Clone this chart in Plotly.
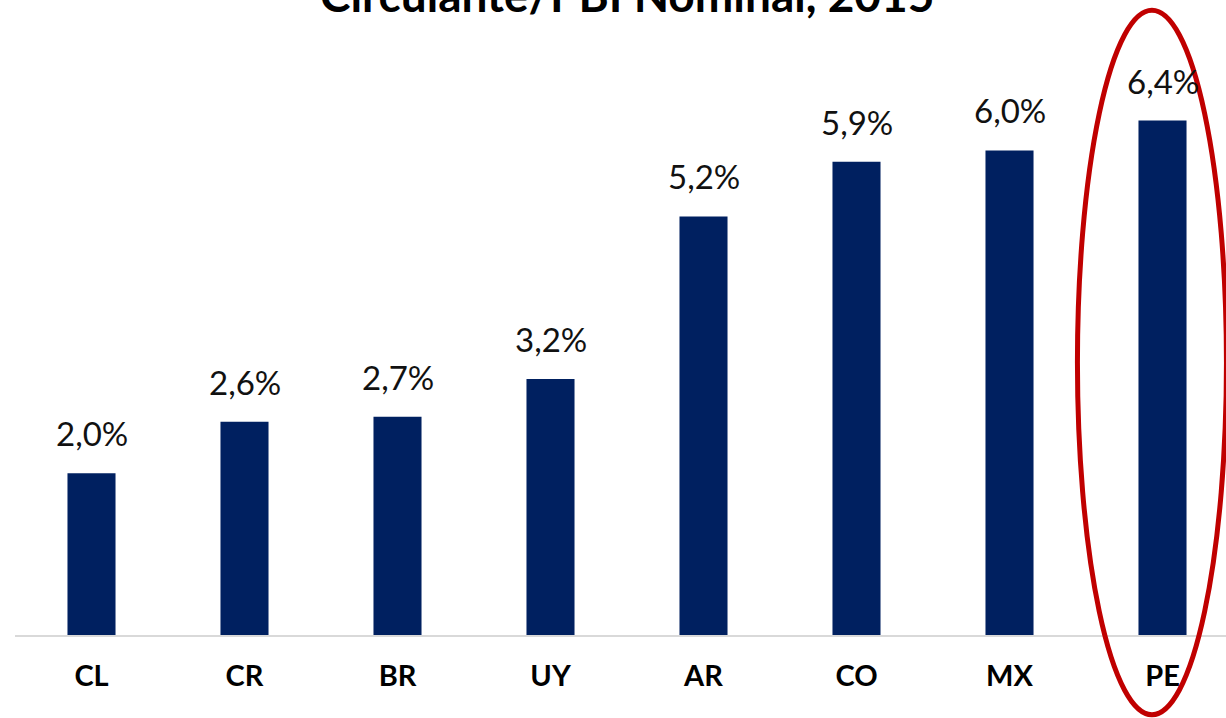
import plotly.graph_objects as go

countries = ["CL", "CR", "BR", "UY", "AR", "CO", "MX", "PE"]
values = [2.0, 2.6, 2.7, 3.2, 5.2, 5.9, 6.0, 6.4]
bar_heights = [2.01, 2.65, 2.71, 3.18, 5.20, 5.88, 6.02, 6.39]
title_text = "Circulante/PBI Nominal, 2015"
highlight = "PE"

FONT = "Lato"
X_RANGE = [-0.5, 7.415]
Y_RANGE = [0, 7.888]

fig = go.Figure()
fig.add_trace(go.Bar(
    x=countries, y=bar_heights, width=0.314,
    marker=dict(color="#002060", line=dict(width=0)),
    hoverinfo="skip",
))

for c, v, h in zip(countries, values, bar_heights):
    fig.add_annotation(
        x=c, y=h, xref="x", yref="y",
        text=f"{v:.1f}%".replace(".", ","),
        showarrow=False, yanchor="bottom", yshift=18,
        font=dict(family=FONT, size=33, color="#111111"),
    )

fig.add_annotation(
    x=0.505, y=1, xref="paper", yref="paper",
    text=f"<b>{title_text}</b>", showarrow=False,
    yanchor="bottom", yshift=-24,
    font=dict(family=FONT, size=46, color="#000000"),
)

# highlight ellipse around the chosen category (data units -> axis domain, so it is not clipped)
hi = countries.index(highlight)
def xd(v):
    return (v - X_RANGE[0]) / (X_RANGE[1] - X_RANGE[0])
def yd(v):
    return (v - Y_RANGE[0]) / (Y_RANGE[1] - Y_RANGE[0])

fig.add_shape(
    type="circle", xref="x domain", yref="y domain",
    x0=xd(hi - 0.556), x1=xd(hi + 0.418), y0=yd(-0.99), y1=yd(7.76),
    line=dict(color="#C00000", width=5),
    fillcolor="rgba(0,0,0,0)", layer="above",
)

fig.update_layout(
    width=1226, height=718,
    margin=dict(l=15, r=0, t=0, b=83),
    plot_bgcolor="white", paper_bgcolor="white",
    showlegend=False,
    separators=",.",
    xaxis=dict(
        range=X_RANGE, showgrid=False, zeroline=False,
        showline=True, linecolor="#D9D9D9", linewidth=2,
        ticks="", tickfont=dict(family=FONT, size=29, color="#000000", weight="bold"),
        ticklabelstandoff=14, fixedrange=True,
    ),
    yaxis=dict(range=Y_RANGE, visible=False, fixedrange=True),
)

fig.write_html(
    "out.html",
    config={"displayModeBar": False},
    post_script="document.body.style.margin='0';document.body.style.overflow='hidden';",
)
